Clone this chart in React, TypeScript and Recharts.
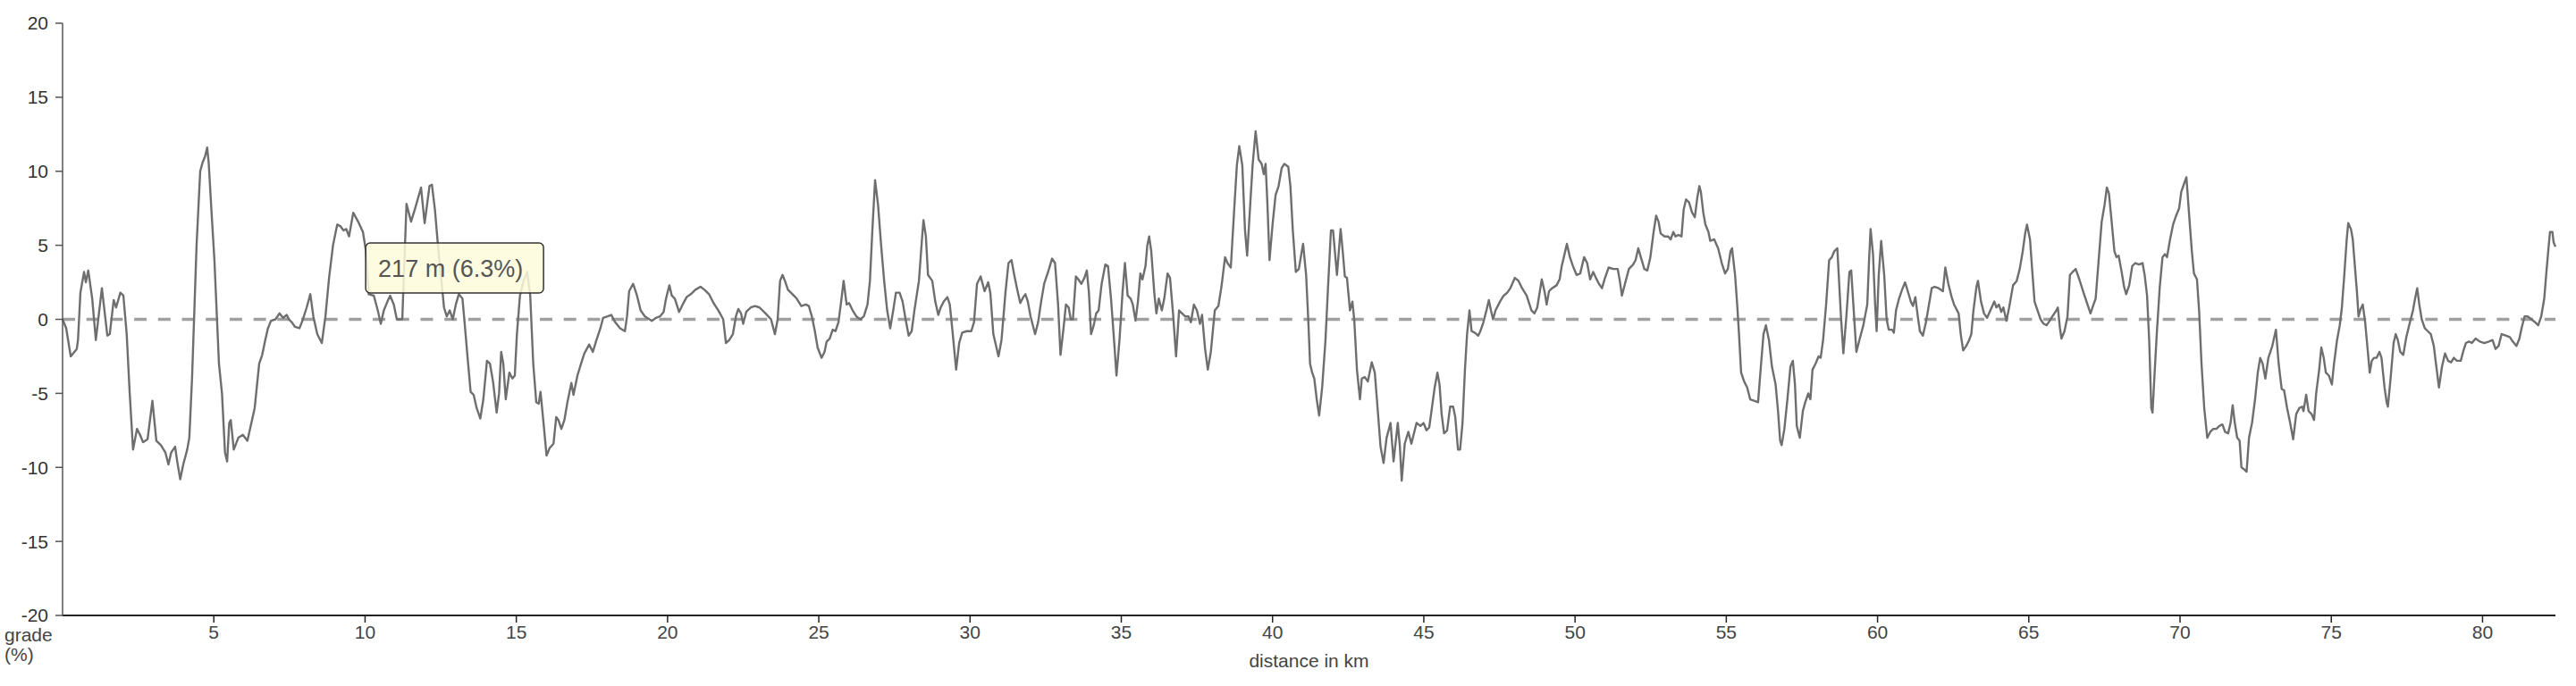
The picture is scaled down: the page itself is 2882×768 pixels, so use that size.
import React from 'react';
import { LineChart, Line, XAxis, YAxis, ReferenceLine, ReferenceDot } from 'recharts';

// [distance in km, grade in %]
const gradeProfile: [number, number][] = [
  [0, 0], [0.12, -0.6], [0.27, -2.5], [0.47, -2.0], [0.51, -1.4], [0.59, 1.8], [0.71, 3.2], [0.77, 2.5], [0.85, 3.3], [0.98, 1.4],
  [1.10, -1.4], [1.30, 2.1], [1.48, -1.1], [1.56, -1.0], [1.69, 1.3], [1.77, 0.8], [1.91, 1.8], [2.01, 1.6], [2.12, -1.0], [2.22, -5.0],
  [2.33, -8.8], [2.46, -7.4], [2.56, -7.8], [2.66, -8.3], [2.81, -8.1], [2.97, -5.5], [3.10, -8.2], [3.25, -8.5], [3.40, -9.0], [3.50, -9.8],
  [3.59, -9.0], [3.72, -8.6], [3.79, -9.6], [3.89, -10.8], [3.99, -9.8], [4.12, -8.8], [4.19, -8.0], [4.28, -4.0], [4.43, 5.0], [4.55, 10.0],
  [4.63, 10.6], [4.71, 11.0], [4.78, 11.6], [4.83, 10.6], [4.92, 7.4], [5.02, 4.0], [5.17, -3.0], [5.27, -5.0], [5.37, -9.0], [5.44, -9.6],
  [5.51, -7.0], [5.56, -6.8], [5.66, -8.8], [5.81, -8.0], [5.96, -7.8], [6.11, -8.2], [6.35, -6.0], [6.50, -3.0], [6.60, -2.4], [6.70, -1.4],
  [6.79, -0.6], [6.89, -0.1], [7.04, 0.0], [7.17, 0.4], [7.29, 0.1], [7.41, 0.3], [7.48, 0.0], [7.58, -0.2], [7.68, -0.5], [7.83, -0.6],
  [7.93, -0.1], [8.07, 0.8], [8.19, 1.7], [8.29, 0.2], [8.42, -1.0], [8.57, -1.6], [8.69, 0.2], [8.81, 2.8], [8.94, 5.0], [9.08, 6.4],
  [9.18, 6.3], [9.29, 6.0], [9.38, 6.1], [9.47, 5.6], [9.61, 7.2], [9.77, 6.6], [9.93, 5.9], [10.03, 4.6], [10.12, 1.7], [10.29, 1.6],
  [10.42, 0.6], [10.52, -0.3], [10.62, 0.6], [10.74, 1.2], [10.83, 1.6], [10.95, 1.0], [11.05, 0.0], [11.23, 0.0], [11.37, 7.8], [11.52, 6.6],
  [11.67, 7.6], [11.85, 8.9], [11.97, 6.5], [12.13, 9.0], [12.21, 9.1], [12.31, 7.4], [12.41, 5.0], [12.61, 0.8], [12.70, 0.2], [12.80, 0.6],
  [12.90, 0.0], [13.00, 1.0], [13.10, 1.7], [13.22, 1.4], [13.29, -0.2], [13.39, -2.6], [13.49, -4.9], [13.59, -5.1], [13.69, -6.0], [13.81, -6.7],
  [13.91, -5.4], [14.03, -2.8], [14.13, -3.0], [14.23, -4.2], [14.35, -6.3], [14.43, -5.0], [14.50, -2.2], [14.57, -3.0], [14.65, -5.4], [14.77, -3.6],
  [14.87, -4.0], [14.95, -3.8], [15.02, -1.0], [15.12, 1.6], [15.24, 2.6], [15.36, 3.2], [15.46, 1.6], [15.56, -3.0], [15.66, -5.6], [15.74, -5.7],
  [15.80, -4.9], [15.90, -7.0], [16.00, -9.2], [16.10, -8.7], [16.23, -8.4], [16.32, -6.6], [16.39, -6.8], [16.49, -7.4], [16.59, -6.8], [16.69, -5.6],
  [16.82, -4.3], [16.89, -5.1], [17.02, -3.8], [17.14, -3.0], [17.25, -2.3], [17.41, -1.7], [17.53, -2.2], [17.65, -1.4], [17.78, -0.6], [17.87, 0.1],
  [18.02, 0.2], [18.14, 0.3], [18.27, -0.2], [18.43, -0.6], [18.59, -0.8], [18.66, 0.2], [18.73, 1.9], [18.86, 2.4], [18.99, 1.6], [19.11, 0.6],
  [19.25, 0.2], [19.48, -0.1], [19.62, 0.1], [19.75, 0.2], [19.87, 0.5], [19.95, 1.4], [20.06, 2.3], [20.14, 1.6], [20.24, 1.4], [20.38, 0.5],
  [20.50, 1.0], [20.63, 1.5], [20.77, 1.7], [20.92, 2.0], [21.09, 2.2], [21.22, 2.0], [21.37, 1.7], [21.52, 1.1], [21.68, 0.6], [21.84, 0.0],
  [21.93, -1.6], [22.04, -1.4], [22.16, -1.0], [22.26, 0.2], [22.34, 0.7], [22.43, 0.4], [22.50, -0.3], [22.60, 0.5], [22.75, 0.8], [22.89, 0.9],
  [23.04, 0.8], [23.24, 0.4], [23.42, 0.0], [23.55, -1.0], [23.64, 0.0], [23.72, 2.6], [23.80, 3.0], [23.88, 2.6], [23.98, 2.0], [24.13, 1.7],
  [24.27, 1.4], [24.42, 0.9], [24.57, 1.0], [24.67, 0.9], [24.77, 0.2], [24.87, -0.8], [24.96, -1.9], [25.09, -2.6], [25.19, -2.2], [25.26, -1.5],
  [25.36, -1.3], [25.46, -0.7], [25.55, -0.8], [25.65, -0.2], [25.75, 1.4], [25.82, 2.6], [25.92, 1.0], [26.00, 1.1], [26.12, 0.6], [26.24, 0.2],
  [26.37, 0.0], [26.49, 0.2], [26.61, 1.0], [26.69, 2.6], [26.77, 6.0], [26.86, 9.4], [26.96, 7.7], [27.06, 5.0], [27.16, 2.6], [27.26, 0.6],
  [27.36, -0.6], [27.46, 0.6], [27.55, 1.8], [27.67, 1.8], [27.77, 1.2], [27.87, 0.0], [27.97, -1.1], [28.07, -0.8], [28.16, 0.6], [28.31, 2.6],
  [28.41, 5.4], [28.46, 6.7], [28.54, 5.6], [28.61, 3.0], [28.75, 2.6], [28.85, 1.2], [28.95, 0.3], [29.03, 0.8], [29.13, 1.2], [29.25, 1.5],
  [29.33, 1.0], [29.42, -0.8], [29.54, -3.4], [29.64, -1.6], [29.74, -0.9], [29.89, -0.8], [30.04, -0.8], [30.13, -0.2], [30.23, 2.4], [30.35, 2.9],
  [30.48, 1.9], [30.60, 2.5], [30.67, 1.8], [30.77, -1.0], [30.94, -2.5], [31.04, -1.4], [31.17, 1.8], [31.27, 3.8], [31.37, 4.0], [31.46, 3.0],
  [31.56, 2.0], [31.66, 1.1], [31.76, 1.5], [31.83, 1.7], [31.91, 1.2], [32.00, 0.2], [32.15, -1.0], [32.25, -0.2], [32.35, 1.2], [32.45, 2.4],
  [32.61, 3.4], [32.71, 4.1], [32.81, 3.8], [32.91, 1.0], [32.99, -2.4], [33.09, -0.6], [33.17, 1.0], [33.26, 0.8], [33.33, 0.0], [33.40, 0.0],
  [33.50, 2.9], [33.58, 2.7], [33.68, 2.4], [33.78, 2.8], [33.86, 3.3], [33.93, 1.8], [34.00, -1.0], [34.09, -0.4], [34.17, 0.4], [34.25, 0.6],
  [34.35, 2.4], [34.47, 3.7], [34.56, 3.6], [34.66, 1.4], [34.76, -1.4], [34.84, -3.8], [34.94, -1.4], [35.04, 1.8], [35.12, 3.8], [35.21, 1.6],
  [35.31, 1.4], [35.38, 1.0], [35.47, -0.1], [35.55, 1.2], [35.63, 3.1], [35.70, 2.7], [35.80, 3.6], [35.86, 5.0], [35.92, 5.6], [35.99, 4.6],
  [36.09, 1.8], [36.16, 0.4], [36.24, 1.4], [36.34, 0.6], [36.42, 1.4], [36.53, 3.1], [36.61, 2.8], [36.71, 0.4], [36.81, -2.5], [36.91, 0.6],
  [37.01, 0.4], [37.11, 0.2], [37.22, 0.2], [37.30, -0.2], [37.40, 1.0], [37.50, 0.6], [37.60, -0.3], [37.67, 0.3], [37.77, -2.0], [37.86, -3.4],
  [37.96, -2.2], [38.09, 0.6], [38.21, 0.9], [38.31, 2.2], [38.43, 4.2], [38.51, 3.8], [38.62, 3.5], [38.72, 7.0], [38.82, 10.4], [38.90, 11.7],
  [39.00, 10.4], [39.09, 6.0], [39.16, 4.3], [39.24, 7.0], [39.34, 10.4], [39.44, 12.7], [39.54, 10.8], [39.64, 10.5], [39.71, 9.8], [39.77, 10.5],
  [39.83, 7.8], [39.90, 4.0], [40.00, 6.4], [40.10, 8.4], [40.20, 9.0], [40.30, 10.2], [40.39, 10.5], [40.52, 10.3], [40.59, 9.0], [40.67, 6.0],
  [40.77, 3.2], [40.87, 3.4], [40.95, 4.4], [41.01, 5.1], [41.11, 3.0], [41.18, 0.0], [41.24, -3.0], [41.31, -3.6], [41.38, -4.0], [41.46, -5.4],
  [41.54, -6.5], [41.64, -4.6], [41.75, -1.4], [41.83, 2.0], [41.93, 6.0], [42.00, 6.0], [42.13, 3.0], [42.25, 6.1], [42.32, 4.6], [42.39, 2.9],
  [42.46, 2.8], [42.56, 0.6], [42.64, 1.2], [42.70, 0.0], [42.79, -3.4], [42.89, -5.4], [42.95, -4.0], [43.05, -3.9], [43.15, -4.2], [43.28, -2.9],
  [43.38, -3.6], [43.48, -6.2], [43.57, -8.6], [43.67, -9.7], [43.77, -8.0], [43.90, -7.0], [44.00, -9.6], [44.14, -7.0], [44.21, -8.6], [44.27, -10.9],
  [44.37, -8.4], [44.49, -7.6], [44.59, -8.4], [44.76, -7.0], [44.89, -7.2], [44.99, -7.0], [45.09, -7.5], [45.18, -7.3], [45.28, -5.8], [45.36, -4.6],
  [45.45, -3.6], [45.52, -4.4], [45.59, -6.4], [45.67, -7.7], [45.77, -7.5], [45.87, -5.9], [45.97, -5.9], [46.04, -6.6], [46.13, -8.8], [46.20, -8.8],
  [46.28, -7.0], [46.36, -3.4], [46.43, -1.0], [46.51, 0.6], [46.58, -0.8], [46.68, -0.9], [46.80, -1.1], [46.87, -0.8], [46.97, -0.2], [47.07, 0.6],
  [47.15, 1.3], [47.22, 0.6], [47.29, 0.0], [47.37, 0.6], [47.52, 1.2], [47.64, 1.6], [47.76, 1.8], [47.86, 2.1], [48.01, 2.8], [48.13, 2.6],
  [48.25, 2.1], [48.40, 1.6], [48.56, 0.6], [48.66, 0.4], [48.75, 0.8], [48.90, 2.7], [49.00, 1.8], [49.06, 1.0], [49.14, 1.9], [49.24, 2.1],
  [49.39, 2.3], [49.49, 2.7], [49.56, 3.6], [49.63, 4.2], [49.73, 5.1], [49.83, 4.2], [49.93, 3.6], [50.05, 3.0], [50.17, 3.1], [50.30, 4.2],
  [50.40, 3.8], [50.50, 2.7], [50.60, 3.2], [50.69, 2.8], [50.79, 2.4], [50.89, 2.1], [50.99, 2.8], [51.11, 3.5], [51.26, 3.4], [51.41, 3.4],
  [51.48, 2.6], [51.55, 1.6], [51.65, 2.4], [51.78, 3.4], [51.92, 3.7], [52.00, 4.0], [52.09, 4.8], [52.19, 4.1], [52.29, 3.4], [52.39, 3.3],
  [52.49, 4.2], [52.59, 5.8], [52.68, 7.0], [52.76, 6.6], [52.83, 5.8], [52.96, 5.6], [53.08, 5.6], [53.16, 5.4], [53.25, 5.9], [53.32, 5.6],
  [53.42, 5.7], [53.52, 5.6], [53.59, 7.4], [53.67, 8.1], [53.77, 7.9], [53.87, 7.2], [53.96, 6.9], [54.04, 8.2], [54.11, 9.0], [54.16, 8.6],
  [54.24, 7.2], [54.31, 6.4], [54.41, 5.9], [54.47, 5.3], [54.60, 5.4], [54.73, 4.8], [54.85, 3.8], [54.96, 3.1], [55.05, 3.4], [55.14, 4.6],
  [55.19, 4.8], [55.29, 3.0], [55.36, 1.0], [55.42, -1.0], [55.49, -3.6], [55.59, -4.2], [55.69, -4.6], [55.79, -5.4], [55.92, -5.5], [56.05, -5.6],
  [56.15, -3.0], [56.23, -1.0], [56.31, -0.4], [56.41, -1.4], [56.51, -3.2], [56.63, -4.4], [56.71, -6.2], [56.78, -8.2], [56.83, -8.5], [56.92, -7.4],
  [57.02, -5.4], [57.12, -3.2], [57.20, -2.8], [57.27, -4.4], [57.33, -7.2], [57.43, -8.0], [57.53, -6.2], [57.61, -5.6], [57.71, -5.0], [57.78, -5.4],
  [57.85, -3.4], [57.95, -3.0], [58.05, -2.5], [58.12, -2.6], [58.20, -1.4], [58.30, 1.0], [58.40, 4.0], [58.49, 4.2], [58.57, 4.6], [58.67, 4.8],
  [58.79, 0.2], [58.87, -2.3], [58.97, 0.2], [59.07, 3.2], [59.13, 3.3], [59.20, 1.0], [59.30, -2.2], [59.40, -1.4], [59.53, -0.4], [59.66, 1.0],
  [59.72, 4.0], [59.77, 6.1], [59.85, 4.4], [59.92, 1.0], [59.97, -0.8], [60.04, 3.0], [60.12, 5.3], [60.22, 3.0], [60.30, 0.0], [60.37, -0.7],
  [60.48, -0.7], [60.54, -0.9], [60.61, 0.6], [60.71, 1.4], [60.81, 2.0], [60.91, 2.5], [61.00, 1.9], [61.10, 1.2], [61.17, 0.9], [61.25, 1.5],
  [61.33, 0.2], [61.40, -0.8], [61.50, -1.1], [61.60, -0.2], [61.70, 1.0], [61.79, 2.1], [61.89, 2.2], [62.02, 2.1], [62.16, 1.9], [62.24, 3.5],
  [62.34, 2.4], [62.45, 1.5], [62.53, 1.0], [62.68, 0.4], [62.75, -1.0], [62.83, -2.1], [62.93, -1.8], [63.03, -1.4], [63.10, -1.0], [63.17, 0.6],
  [63.27, 2.2], [63.32, 2.6], [63.42, 1.2], [63.52, 0.4], [63.62, 0.1], [63.73, 0.6], [63.86, 1.2], [63.93, 0.8], [64.01, 1.0], [64.09, 0.5],
  [64.16, 0.8], [64.26, -0.1], [64.35, 0.8], [64.48, 2.3], [64.60, 2.6], [64.70, 3.4], [64.80, 4.6], [64.88, 5.8], [64.94, 6.4], [65.04, 5.4],
  [65.11, 3.4], [65.19, 1.2], [65.29, 0.6], [65.39, 0.0], [65.49, -0.3], [65.59, -0.4], [65.69, -0.1], [65.78, 0.2], [65.88, 0.5], [65.96, 0.8],
  [66.03, -0.6], [66.08, -1.3], [66.18, -0.8], [66.28, 0.2], [66.36, 3.0], [66.45, 3.2], [66.55, 3.4], [66.67, 2.7], [66.81, 1.8], [66.94, 1.0],
  [67.04, 0.4], [67.14, 1.0], [67.21, 1.4], [67.31, 4.0], [67.41, 6.6], [67.51, 7.8], [67.58, 8.9], [67.65, 8.5], [67.73, 6.8], [67.83, 4.6],
  [67.90, 4.2], [67.97, 4.3], [68.07, 3.2], [68.15, 2.2], [68.22, 1.7], [68.32, 2.3], [68.42, 3.6], [68.52, 3.8], [68.64, 3.7], [68.76, 3.8],
  [68.83, 3.0], [68.91, 1.6], [68.98, -1.4], [69.05, -6.0], [69.09, -6.3], [69.15, -4.0], [69.23, -1.0], [69.33, 2.2], [69.42, 4.2], [69.50, 4.4],
  [69.57, 4.2], [69.67, 5.4], [69.77, 6.4], [69.87, 7.0], [69.97, 7.5], [70.04, 8.6], [70.14, 9.2], [70.21, 9.6], [70.31, 6.8], [70.39, 4.6],
  [70.46, 3.1], [70.56, 2.7], [70.63, 0.6], [70.71, -3.0], [70.80, -6.0], [70.90, -8.0], [71.00, -7.6], [71.10, -7.4], [71.20, -7.4], [71.30, -7.2],
  [71.40, -7.1], [71.49, -7.6], [71.59, -7.7], [71.67, -7.0], [71.74, -5.8], [71.81, -7.0], [71.89, -8.0], [71.97, -8.2], [72.03, -10.0], [72.10, -10.1],
  [72.20, -10.3], [72.28, -8.0], [72.38, -7.0], [72.48, -5.4], [72.57, -3.6], [72.65, -2.6], [72.73, -3.0], [72.82, -4.0], [72.92, -2.6], [73.05, -1.8],
  [73.17, -0.7], [73.26, -3.0], [73.36, -4.7], [73.44, -4.8], [73.54, -6.0], [73.64, -7.0], [73.74, -8.1], [73.84, -6.4], [73.94, -6.0], [74.04, -5.9],
  [74.08, -6.2], [74.17, -5.1], [74.25, -6.2], [74.35, -6.4], [74.43, -6.8], [74.50, -5.0], [74.60, -3.4], [74.67, -1.9], [74.75, -2.6], [74.82, -3.6],
  [74.92, -3.8], [75.02, -4.4], [75.09, -3.0], [75.19, -1.4], [75.28, -0.4], [75.35, 0.8], [75.43, 3.0], [75.51, 5.4], [75.56, 6.5], [75.65, 6.1],
  [75.71, 5.4], [75.78, 3.6], [75.85, 1.8], [75.90, 0.2], [75.97, 0.7], [76.04, 1.0], [76.12, -0.2], [76.20, -2.0], [76.27, -3.6], [76.34, -2.8],
  [76.41, -2.6], [76.50, -2.6], [76.59, -2.2], [76.66, -2.6], [76.76, -4.6], [76.83, -5.6], [76.87, -5.9], [76.96, -4.0], [77.06, -1.6], [77.13, -1.0],
  [77.20, -1.4], [77.28, -2.2], [77.38, -2.4], [77.48, -1.2], [77.60, -0.2], [77.70, 0.6], [77.77, 1.4], [77.84, 2.1], [77.91, 1.0], [77.99, 0.0],
  [78.09, -0.6], [78.19, -0.8], [78.29, -1.0], [78.39, -1.8], [78.46, -3.0], [78.56, -4.6], [78.66, -3.2], [78.76, -2.3], [78.86, -2.8], [78.96, -2.9],
  [79.05, -2.6], [79.15, -2.8], [79.28, -2.8], [79.37, -2.1], [79.45, -1.6], [79.55, -1.5], [79.65, -1.6], [79.77, -1.3], [79.91, -1.5], [80.06, -1.6],
  [80.21, -1.5], [80.33, -1.4], [80.43, -2.0], [80.53, -1.8], [80.63, -1.0], [80.77, -1.1], [80.90, -1.2], [81.00, -1.5], [81.12, -1.8], [81.22, -1.3],
  [81.29, -0.6], [81.39, 0.2], [81.49, 0.2], [81.62, 0.0], [81.74, -0.2], [81.84, -0.4], [81.94, 0.2], [82.04, 1.4], [82.12, 3.4], [82.18, 4.8],
  [82.23, 5.9], [82.31, 5.9], [82.35, 5.2], [82.41, 4.9],
];

const xTicks = [5, 10, 15, 20, 25, 30, 35, 40, 45, 50, 55, 60, 65, 70, 75, 80];
const yTicks = [-20, -15, -10, -5, 0, 5, 10, 15, 20];
const xAxisTitle = 'distance in km';
const yAxisTitleLines = ['grade', '(%)'];
const tooltipText = '217 m (6.3%)';
const tooltipAnchorKm = 10.02;
const tooltipAnchorGrade = 5.16;

const data = gradeProfile.map(([km, grade]) => ({ km, grade }));

const FONT = '"Liberation Sans", Arial, Helvetica, sans-serif';

function TooltipBox(props: any) {
  const { cx, cy } = props;
  if (cx == null || cy == null) return null;
  return (
    <g>
      <rect
        x={cx}
        y={cy}
        width={199}
        height={56}
        rx={5}
        ry={5}
        fill="#fdfbdc"
        fillOpacity={0.85}
        stroke="#333"
        strokeWidth={1.5}
      />
      <text x={cx + 14} y={cy + 38} fontSize={27} fill="#555" fontFamily={FONT}>
        {tooltipText}
      </text>
    </g>
  );
}

function YTitle(props: any) {
  const vb = props.viewBox || {};
  const x = 5;
  const y = (vb.y || 0) + (vb.height || 0) + 29;
  return (
    <text x={x} y={y} fontSize={21} fill="#444" fontFamily={FONT}>
      <tspan x={x}>{yAxisTitleLines[0]}</tspan>
      <tspan x={x} dy={22}>{yAxisTitleLines[1]}</tspan>
    </text>
  );
}

export default function App() {
  return (
    <div style={{ position: 'absolute', left: 0, top: 0, width: 2882, height: 768, background: '#fff' }}>
      <LineChart width={2882} height={768} data={data} margin={{ top: 26, right: 23, bottom: 0, left: 0 }}>
        <XAxis
          dataKey="km"
          type="number"
          domain={[0, 'dataMax']}
          ticks={xTicks}
          interval={0}
          height={79}
          tickSize={8}
          tickMargin={3}
          axisLine={{ stroke: '#222', strokeWidth: 2 }}
          tickLine={{ stroke: '#222', strokeWidth: 1.5 }}
          tick={{ fontSize: 21, fill: '#444', fontFamily: FONT }}
          label={{ value: xAxisTitle, position: 'insideBottom', offset: 21, fontSize: 21, fill: '#444', fontFamily: FONT }}
        />
        <YAxis
          type="number"
          domain={[-20, 20]}
          ticks={yTicks}
          interval={0}
          width={70}
          tickSize={8}
          tickMargin={8}
          axisLine={{ stroke: '#555', strokeWidth: 1.5 }}
          tickLine={{ stroke: '#555', strokeWidth: 1.5 }}
          tick={{ fontSize: 21, fill: '#333', fontFamily: FONT }}
          label={<YTitle />}
        />
        <ReferenceLine y={0} stroke="#a0a0a0" strokeWidth={3.5} strokeDasharray="14 12.7" />
        <Line
          dataKey="grade"
          type="linear"
          stroke="#6e6e6e"
          strokeWidth={2.4}
          strokeLinejoin="round"
          dot={false}
          activeDot={false}
          isAnimationActive={false}
        />
        <ReferenceDot
          x={tooltipAnchorKm}
          y={tooltipAnchorGrade}
          r={0}
          ifOverflow="visible"
          shape={TooltipBox}
        />
      </LineChart>
    </div>
  );
}
